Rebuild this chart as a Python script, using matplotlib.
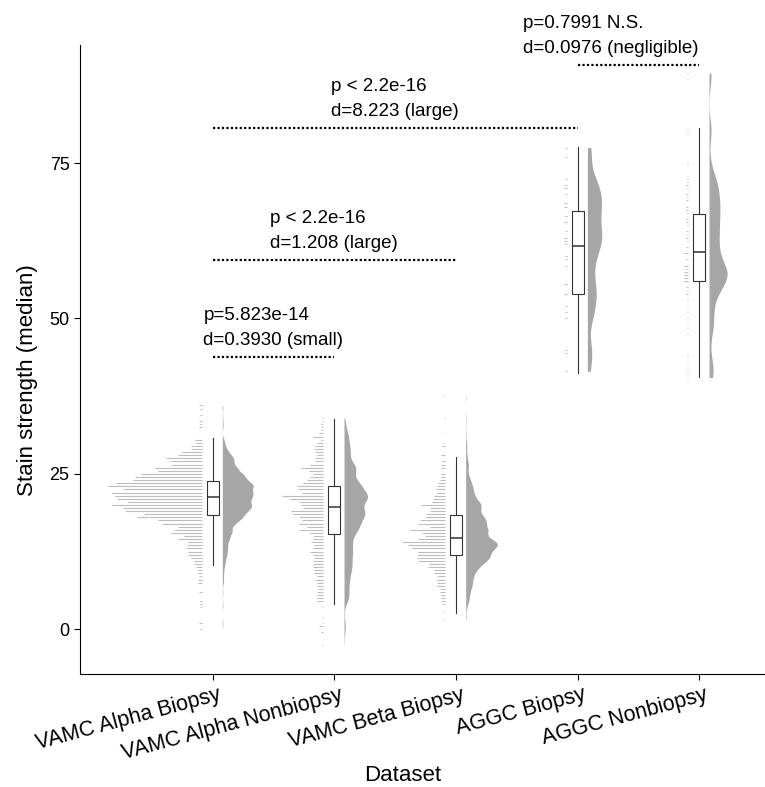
import numpy as np
import matplotlib.pyplot as plt
import matplotlib.transforms as mtransforms

plt.rcParams['font.family'] = ['Liberation Sans', 'DejaVu Sans']

datasets = ["VAMC Alpha Biopsy", "VAMC Alpha Nonbiopsy", "VAMC Beta Biopsy",
            "AGGC Biopsy", "AGGC Nonbiopsy"]

# binned stain strength (0.5 wide bins), counts from the lowest bin upward
alpha_bx_low = 0.0
alpha_bx_counts = [1, 0, 2, 0, 0, 0, 0, 1, 1, 1, 0, 0, 2, 0, 0, 3, 3, 2, 3, 3,
                   4, 6, 6, 8, 10, 10, 12, 11, 10, 18, 13, 23, 21, 18, 30, 33, 48, 43, 57, 59,
                   67, 55, 63, 65, 67, 59, 70, 64, 51, 50, 45, 33, 35, 23, 24, 27, 18, 15, 8, 8,
                   4, 5, 0, 0, 0, 2, 1, 2, 0, 1, 0, 1, 2]

alpha_nbx_low = -2.5
alpha_nbx_counts = [1, 0, 0, 0, 2, 0, 3, 1, 0, 1, 0, 0, 1, 0,
                    5, 5, 5, 5, 4, 5, 5, 6, 5, 7, 7, 8, 8, 8, 7, 8, 10, 8, 7, 9,
                    8, 8, 10, 18, 12, 18, 16, 18, 23, 24, 15, 17, 18, 25, 31, 16, 19, 20, 15, 12,
                    10, 8, 11, 17, 10, 6, 6, 5, 6, 7, 6, 5, 2, 8, 3, 2, 2, 2, 1, 1]

beta_bx_low = 1.5
beta_bx_counts = [1, 0, 0, 1, 0, 2, 3, 3, 3, 4, 4, 6, 6, 6, 6, 8, 8, 13, 12, 20,
                  21, 21, 20, 25, 28, 32, 20, 15, 17, 26, 11, 20, 19, 15, 14, 11, 11, 18, 10, 9,
                  8, 6, 7, 6, 5, 4, 3, 3, 0, 3, 3, 2, 0, 3, 0, 0, 2, 1, 0, 0,
                  1, 0, 0, 0, 0, 1, 0, 0, 0, 0, 0, 0, 1]

aggc_bx_vals = [41.5, 44.5, 45, 50, 51, 52, 54, 55.5, 58.5, 59.5, 60, 62, 62.5, 63,
                64, 65.5, 66.5, 68, 68.5, 70, 71, 71.5, 72.5, 76, 77.5]
aggc_bx_counts = [1, 1, 1, 1, 1, 1, 2, 2, 1, 1, 1, 1, 2, 2,
                  1, 2, 1, 2, 2, 1, 2, 1, 1, 1, 1]

aggc_nbx_vals = [40.5, 41, 41.5, 42.5, 44, 47.5, 48.5, 49, 50, 51, 52, 53, 54, 54.5,
                 55, 56, 56.5, 57, 57.5, 58, 58.5, 59.5, 60.5, 61.5, 62.5, 63, 63.5, 64,
                 65, 65.5, 66, 67, 67.5, 68, 69, 69.5, 70, 71, 71.5, 72, 72.5, 73,
                 75, 80, 80.5, 88.5, 89.5]
aggc_nbx_counts = [1, 1, 1, 1, 1, 1, 1, 1, 1, 1, 1, 1, 2, 1,
                   2, 3, 3, 3, 3, 2, 3, 2, 3, 2, 1, 2, 1, 2,
                   1, 2, 2, 1, 2, 2, 2, 1, 2, 1, 2, 1, 1, 1,
                   1, 1, 1, 1, 1]

# box summaries
q1s = [18.4, 15.4, 12.0, 54.0, 56.0]
medians = [21.2, 19.6, 14.7, 61.6, 60.7]
q3s = [23.9, 23.0, 18.4, 67.3, 66.8]
whis_lo = [10.4, 4.1, 2.6, 41.2, 40.6]
whis_hi = [30.8, 33.9, 27.7, 77.6, 80.6]

# pairwise comparisons
pairs = [(0, 1), (0, 2), (0, 3), (3, 4)]
pair_y = [43.8, 59.4, 80.6, 90.8]
label_x = [0.5, 1.0, 1.5, 3.27]
p_labels = ["p=5.823e-14", "p < 2.2e-16", "p < 2.2e-16", "p=0.7991 N.S."]
d_labels = ["d=0.3930 (small)", "d=1.208 (large)", "d=8.223 (large)", "d=0.0976 (negligible)"]


def grid_vals(low, counts):
    return low + 0.5 * np.arange(len(counts))


groups = [
    (grid_vals(alpha_bx_low, alpha_bx_counts), np.array(alpha_bx_counts, float)),
    (grid_vals(alpha_nbx_low, alpha_nbx_counts), np.array(alpha_nbx_counts, float)),
    (grid_vals(beta_bx_low, beta_bx_counts), np.array(beta_bx_counts, float)),
    (np.array(aggc_bx_vals, float), np.array(aggc_bx_counts, float)),
    (np.array(aggc_nbx_vals, float), np.array(aggc_nbx_counts, float)),
]


def density(vals, w, adjust=0.5):
    # weighted gaussian kde, bandwidth like R's nrd0, trimmed to data range
    keep = w > 0
    vals, w = vals[keep], w[keep]
    n = w.sum()
    mean = np.sum(w * vals) / n
    sd = np.sqrt(np.sum(w * (vals - mean) ** 2) / (n - 1))
    cum = np.cumsum(w) / n
    iqr = np.interp(0.75, cum, vals) - np.interp(0.25, cum, vals)
    bw = 0.9 * min(sd, iqr / 1.34) * n ** -0.2 * adjust
    y = np.linspace(vals.min(), vals.max(), 500)
    d = (w[None, :] * np.exp(-0.5 * ((y[:, None] - vals[None, :]) / bw) ** 2)).sum(1)
    return y, d / (n * bw * np.sqrt(2 * np.pi))


fig = plt.figure(figsize=(7.65, 7.87), dpi=100)
ax = fig.add_axes([80 / 765, (787 - 674) / 787, 1 - 80 / 765, (674 - 45) / 787])

profiles = [density(v, c) for v, c in groups]
k = 0.26 / max(d.max() for _, d in profiles)

for i, ((vals, cnt), (y, d)) in enumerate(zip(groups, profiles)):
    # half violin on the right
    ax.fill_betweenx(y, i + 0.08, i + 0.08 + d * k, color='#a6a6a6', lw=0, zorder=2)
    # count lines on the left
    m = cnt > 0
    ax.hlines(vals[m], i - 0.09 - cnt[m] * 0.011, i - 0.09, color='#bdbdbd', lw=0.8, zorder=2)

stats = []
for i in range(len(datasets)):
    stats.append(dict(med=medians[i], q1=q1s[i], q3=q3s[i],
                      whislo=whis_lo[i], whishi=whis_hi[i], fliers=[]))
ax.bxp(stats, positions=range(len(datasets)), widths=0.1, showfliers=False,
       showcaps=False, patch_artist=True,
       boxprops=dict(facecolor='white', edgecolor='#333333', lw=0.8),
       whiskerprops=dict(color='#333333', lw=0.8),
       medianprops=dict(color='#333333', lw=1.1), manage_ticks=False, zorder=3)

for (a, b), y, x, pl, dl in zip(pairs, pair_y, label_x, p_labels, d_labels):
    ax.plot([a, b], [y, y], color='black', lw=1.6, linestyle=(0, (1, 1)))
    ax.annotate(pl + "\n" + dl, xy=(x, y), xytext=(0, 6), textcoords='offset points',
                ha='center', va='bottom', multialignment='left', fontsize=13.5,
                linespacing=1.6)

ax.set_xlim(-1.09, 4.54)
ax.set_ylim(-7.2, 94)
ax.set_yticks([0, 25, 50, 75])
ax.set_xticks(range(len(datasets)))
ax.set_xticklabels(datasets, rotation=15, ha='right', rotation_mode='anchor')
ax.tick_params(length=4, width=0.8, colors='black')
ax.tick_params(axis='y', labelsize=13)
ax.tick_params(axis='x', labelsize=15.5)
# nudge the slanted category labels a little to the right
shift = mtransforms.ScaledTranslation(5 / 100, 0, fig.dpi_scale_trans)
for lab in ax.get_xticklabels():
    lab.set_transform(lab.get_transform() + shift)
for s in ['top', 'right']:
    ax.spines[s].set_visible(False)
for s in ['left', 'bottom']:
    ax.spines[s].set_linewidth(0.8)

ax.set_xlabel("Dataset", fontsize=16)
ax.set_ylabel("Stain strength (median)", fontsize=16)
ax.xaxis.set_label_coords(0.4715, -0.145)
ax.yaxis.set_label_coords(-0.062, 0.467)

fig.savefig("out.png", dpi=100)
